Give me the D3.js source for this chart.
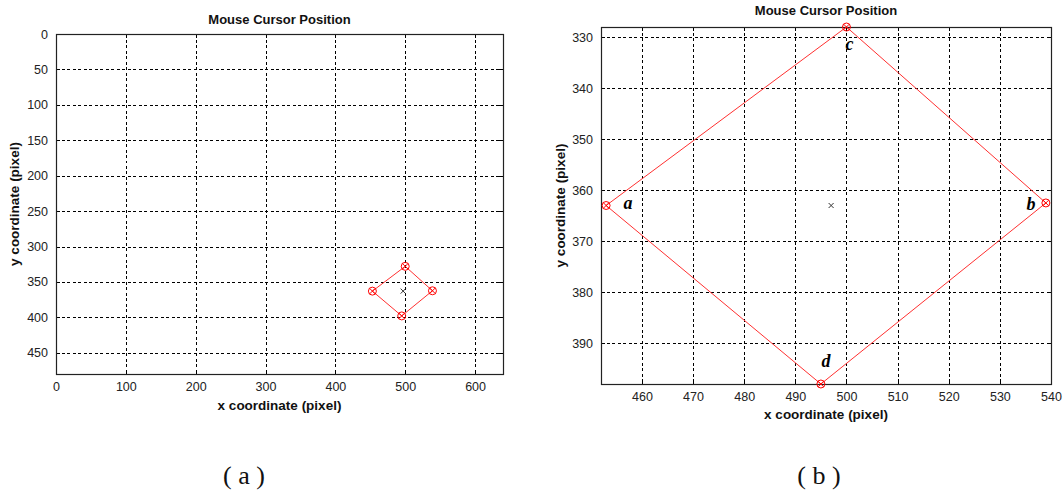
<!DOCTYPE html>
<html>
<head>
<meta charset="utf-8">
<script src="https://cdn.jsdelivr.net/npm/d3@7"></script>
<style>
  html, body { margin: 0; padding: 0; background: #fff; }
  svg { display: block; }
</style>
</head>
<body>
<svg id="chart" width="1064" height="495"></svg>
<script>
// Tracked corner points of the marker (pixel coordinates of the screen)
const cornerNames = ["a", "b", "c", "d"];
const cornerX = [453, 539, 500, 495];
const cornerY = [363, 362.5, 328, 398];
// outline order: a -> c -> b -> d -> a
const outlineOrder = ["a", "c", "b", "d", "a"];
// estimated cursor position (centre of the marker)
const cursorX = [497];
const cursorY = [363];

// Full-screen view
const fullXDomain = [0, 640];
const fullYDomain = [0, 480];
const fullXTicks = [0, 100, 200, 300, 400, 500, 600];
const fullYTicks = [0, 50, 100, 150, 200, 250, 300, 350, 400, 450];

// Zoomed view
const zoomXDomain = [452, 540];
const zoomYDomain = [328, 398];
const zoomXTicks = [460, 470, 480, 490, 500, 510, 520, 530, 540];
const zoomYTicks = [330, 340, 350, 360, 370, 380, 390];

const titleText = "Mouse Cursor Position";
const xLabelText = "x coordinate (pixel)";
const yLabelText = "y coordinate (pixel)";
const panelCaptions = ["( a )", "( b )"];

const svg = d3.select("#chart");
const points = cornerNames.map((n, i) => ({ name: n, x: cornerX[i], y: cornerY[i] }));
const byName = Object.fromEntries(points.map(p => [p.name, p]));

function drawPanel(cfg) {
  const g = svg.append("g");
  const x = d3.scaleLinear().domain(cfg.xDomain).range([cfg.left, cfg.right]);
  const y = d3.scaleLinear().domain(cfg.yDomain).range([cfg.top, cfg.bottom]);

  // grid
  const grid = g.append("g").attr("stroke", "#000").attr("stroke-width", 1)
    .attr("stroke-dasharray", "3,2.5").attr("shape-rendering", "crispEdges");
  grid.selectAll(".gx").data(cfg.xTicks.filter(t => x(t) > cfg.left + 1 && x(t) < cfg.right - 1))
    .join("line")
    .attr("x1", d => Math.round(x(d)) + 0.5).attr("x2", d => Math.round(x(d)) + 0.5)
    .attr("y1", cfg.top).attr("y2", cfg.bottom);
  grid.selectAll(".gy").data(cfg.yTicks.filter(t => y(t) > cfg.top + 1 && y(t) < cfg.bottom - 1))
    .join("line")
    .attr("y1", d => Math.round(y(d)) + 0.5).attr("y2", d => Math.round(y(d)) + 0.5)
    .attr("x1", cfg.left).attr("x2", cfg.right);

  // axes with inward ticks on all four sides
  const tickLen = 4;
  const fmt = d3.format("d");
  const axB = d3.axisBottom(x).tickValues(cfg.xTicks).tickSizeInner(-tickLen).tickSizeOuter(0).tickPadding(8).tickFormat(fmt);
  const axT = d3.axisTop(x).tickValues(cfg.xTicks).tickSizeInner(-tickLen).tickSizeOuter(0).tickFormat("");
  const axL = d3.axisLeft(y).tickValues(cfg.yTicks).tickSizeInner(-tickLen).tickSizeOuter(0).tickPadding(8).tickFormat(fmt);
  const axR = d3.axisRight(y).tickValues(cfg.yTicks).tickSizeInner(-tickLen).tickSizeOuter(0).tickFormat("");

  const styleAxis = sel => {
    sel.selectAll("path,line").attr("stroke", "#000").attr("shape-rendering", "crispEdges");
    sel.selectAll("text").attr("font-family", "Liberation Sans, Arial, sans-serif")
      .attr("font-size", 12.5).attr("fill", "#222");
  };
  g.append("g").attr("transform", `translate(0,${cfg.bottom})`).call(axB).call(styleAxis);
  g.append("g").attr("transform", `translate(0,${cfg.top})`).call(axT).call(styleAxis);
  g.append("g").attr("transform", `translate(${cfg.left},0)`).call(axL).call(styleAxis);
  g.append("g").attr("transform", `translate(${cfg.right},0)`).call(axR).call(styleAxis);

  // frame
  g.append("rect").attr("x", cfg.left + 0.5).attr("y", cfg.top + 0.5)
    .attr("width", cfg.right - cfg.left).attr("height", cfg.bottom - cfg.top)
    .attr("fill", "none").attr("stroke", "#222").attr("stroke-width", 1.2);

  // marker outline
  const line = d3.line().x(d => x(d.x)).y(d => y(d.y));
  g.append("path").datum(outlineOrder.map(n => byName[n]))
    .attr("d", line).attr("fill", "none").attr("stroke", "#ff3030").attr("stroke-width", 1);

  // corner markers: circle with a cross inside
  const r = 4;
  const mk = g.selectAll(".corner").data(points).join("g")
    .attr("transform", d => `translate(${x(d.x)},${y(d.y)})`)
    .attr("stroke", "#f00").attr("stroke-width", 1).attr("fill", "none");
  mk.append("circle").attr("r", r);
  mk.append("path").attr("d", `M${-r * 0.7},${-r * 0.7}L${r * 0.7},${r * 0.7}M${-r * 0.7},${r * 0.7}L${r * 0.7},${-r * 0.7}`);

  // cursor position
  g.selectAll(".cursor").data(cursorX.map((v, i) => ({ x: v, y: cursorY[i] }))).join("path")
    .attr("d", d => {
      const cx = x(d.x), cy = y(d.y), s = 2.5;
      return `M${cx - s},${cy - s}L${cx + s},${cy + s}M${cx - s},${cy + s}L${cx + s},${cy - s}`;
    })
    .attr("stroke", "#333").attr("stroke-width", 1);

  // corner letters
  if (cfg.letterOffsets) {
    g.selectAll(".letter").data(points).join("text")
      .attr("x", d => x(d.x) + cfg.letterOffsets[d.name][0])
      .attr("y", d => y(d.y) + cfg.letterOffsets[d.name][1])
      .attr("text-anchor", "middle").attr("dominant-baseline", "central")
      .attr("font-family", "Liberation Serif, Times New Roman, serif")
      .attr("font-style", "italic").attr("font-weight", "bold").attr("font-size", 18)
      .attr("fill", "#000").text(d => d.name);
  }

  // title and axis labels
  const bold = (sel, size) => sel.attr("font-family", "Liberation Sans, Arial, sans-serif")
    .attr("font-weight", "bold").attr("font-size", size).attr("fill", "#111").attr("text-anchor", "middle");
  g.append("text").attr("x", (cfg.left + cfg.right) / 2).attr("y", cfg.titleY).text(titleText).call(bold, 13);
  g.append("text").attr("x", (cfg.left + cfg.right) / 2).attr("y", cfg.xLabelY).text(xLabelText).call(bold, 13.5);
  g.append("text").attr("transform", `translate(${cfg.yLabelX},${(cfg.top + cfg.bottom) / 2}) rotate(-90)`)
    .text(yLabelText).call(bold, 13.5);

  // caption
  g.append("text").attr("x", cfg.captionX).attr("y", 484)
    .attr("text-anchor", "middle").attr("font-family", "Liberation Serif, Times New Roman, serif")
    .attr("font-size", 26).attr("fill", "#111").text(cfg.caption);
}

drawPanel({
  left: 56, right: 503, top: 34, bottom: 374,
  xDomain: fullXDomain, yDomain: fullYDomain,
  xTicks: fullXTicks, yTicks: fullYTicks,
  titleY: 24, xLabelY: 410, yLabelX: 19,
  captionX: 244, caption: panelCaptions[0]
});

drawPanel({
  left: 601, right: 1051, top: 27, bottom: 384,
  xDomain: zoomXDomain, yDomain: zoomYDomain,
  xTicks: zoomXTicks, yTicks: zoomYTicks,
  titleY: 15, xLabelY: 419, yLabelX: 565,
  captionX: 819, caption: panelCaptions[1],
  letterOffsets: { a: [22, -3], b: [-15, 1], c: [3, 17], d: [5, -23] }
});
</script>
</body>
</html>
